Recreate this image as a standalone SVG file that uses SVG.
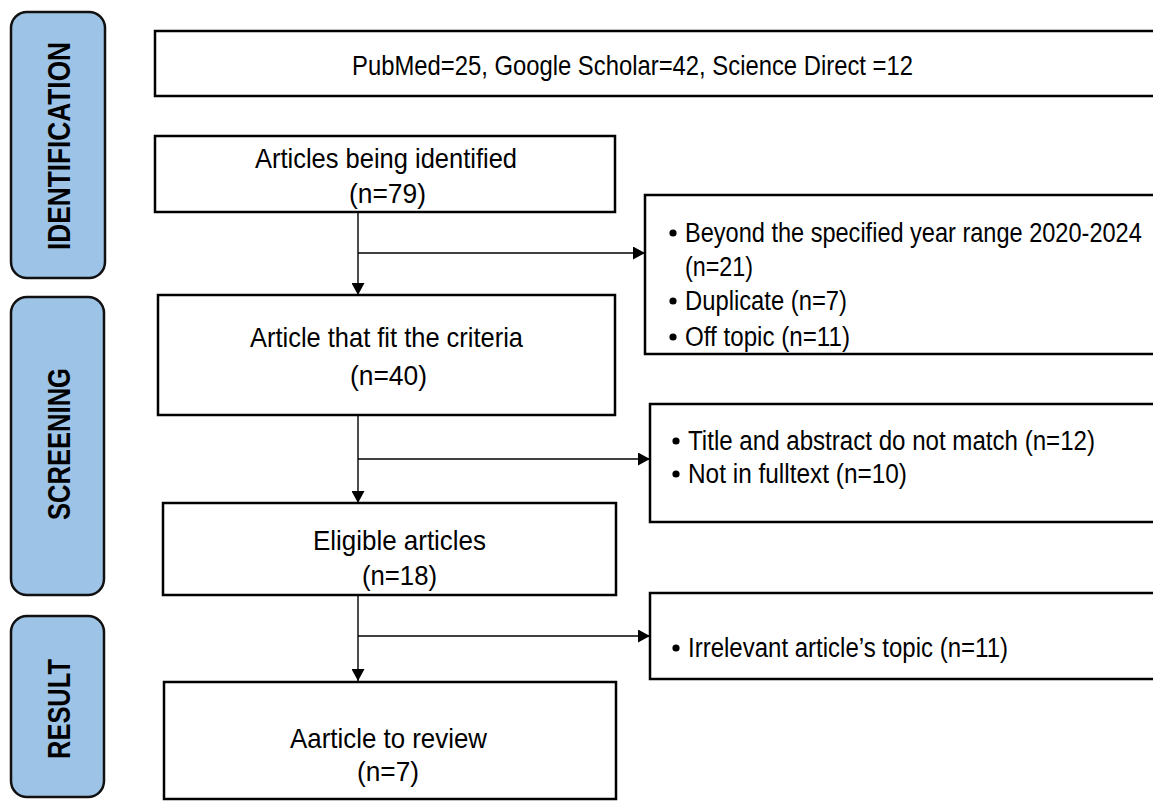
<svg xmlns="http://www.w3.org/2000/svg" width="1153" height="801" viewBox="0 0 1153 801">
<defs>
<marker id="ah" markerUnits="userSpaceOnUse" markerWidth="13" markerHeight="13" refX="12" refY="6.5" orient="auto">
<path d="M0,0 L12,6.5 L0,13 Z" fill="#000"/>
</marker>
<style>
.stage{fill:#9DC3E6;stroke:#111;stroke-width:2.5}
.stxt{font-family:"Liberation Sans",Arial,sans-serif;font-weight:bold;font-size:31px;fill:#000}
.box{fill:#fff;stroke:#000;stroke-width:2.5}
.t{font-family:"Liberation Sans",Arial,sans-serif;font-size:28px;fill:#000}
.b{font-family:"Liberation Sans",Arial,sans-serif;font-size:27px;fill:#000}
.conn{fill:none;stroke:#000;stroke-width:1.4}
</style>
</defs>
<rect width="1153" height="801" fill="#fff"/>
<g id="stage-identification">
<rect class="stage" x="11" y="12" width="94" height="266" rx="16"/>
<text class="stxt" transform="translate(70,250) rotate(-90)" textLength="208" lengthAdjust="spacingAndGlyphs">IDENTIFICATION</text>
</g>
<g id="stage-screening">
<rect class="stage" x="11" y="297" width="93" height="298" rx="16"/>
<text class="stxt" transform="translate(70,520) rotate(-90)" textLength="152" lengthAdjust="spacingAndGlyphs">SCREENING</text>
</g>
<g id="stage-result">
<rect class="stage" x="11" y="616" width="93" height="181" rx="16"/>
<text class="stxt" transform="translate(70,759) rotate(-90)" textLength="100" lengthAdjust="spacingAndGlyphs">RESULT</text>
</g>
<g id="sources">
<rect class="box" x="155" y="31" width="1010" height="65"/>
<text class="t" x="352" y="75" textLength="561" lengthAdjust="spacingAndGlyphs">PubMed=25, Google Scholar=42, Science Direct =12</text>
</g>
<g id="identified">
<rect class="box" x="155" y="136" width="460" height="76"/>
<text class="t" x="255" y="168" textLength="262" lengthAdjust="spacingAndGlyphs">Articles being identified</text>
<text class="t" x="349" y="203" textLength="77" lengthAdjust="spacingAndGlyphs">(n=79)</text>
</g>
<g id="excluded-1">
<rect class="box" x="645" y="195" width="520" height="159"/>
<circle cx="673" cy="233" r="3.6"/>
<text class="b" transform="translate(685,242) scale(0.872,1)">Beyond the specified year range 2020-2024</text>
<text class="b" x="685" y="276" textLength="68" lengthAdjust="spacingAndGlyphs">(n=21)</text>
<circle cx="673" cy="301" r="3.6"/>
<text class="b" x="685" y="310" textLength="162" lengthAdjust="spacingAndGlyphs">Duplicate (n=7)</text>
<circle cx="673" cy="337" r="3.6"/>
<text class="b" x="685" y="346" textLength="165" lengthAdjust="spacingAndGlyphs">Off topic (n=11)</text>
</g>
<g id="fit-criteria">
<rect class="box" x="158" y="295" width="457" height="120"/>
<text class="t" x="250" y="347" textLength="273" lengthAdjust="spacingAndGlyphs">Article that fit the criteria</text>
<text class="t" x="350" y="385" textLength="77" lengthAdjust="spacingAndGlyphs">(n=40)</text>
</g>
<g id="excluded-2">
<rect class="box" x="650" y="404" width="515" height="118"/>
<circle cx="676" cy="441" r="3.6"/>
<text class="b" x="688" y="450" textLength="407" lengthAdjust="spacingAndGlyphs">Title and abstract do not match (n=12)</text>
<circle cx="676" cy="474" r="3.6"/>
<text class="b" x="688" y="483" textLength="219" lengthAdjust="spacingAndGlyphs">Not in fulltext (n=10)</text>
</g>
<g id="eligible">
<rect class="box" x="163" y="503" width="453" height="92"/>
<text class="t" x="313" y="550" textLength="173" lengthAdjust="spacingAndGlyphs">Eligible articles</text>
<text class="t" x="362" y="585" textLength="75" lengthAdjust="spacingAndGlyphs">(n=18)</text>
</g>
<g id="excluded-3">
<rect class="box" x="650" y="593" width="515" height="86"/>
<circle cx="676" cy="648" r="3.6"/>
<text class="b" x="688" y="657" textLength="320" lengthAdjust="spacingAndGlyphs">Irrelevant article’s topic (n=11)</text>
</g>
<g id="review">
<rect class="box" x="164" y="682" width="452" height="117"/>
<text class="t" x="290" y="748" textLength="197" lengthAdjust="spacingAndGlyphs">Aarticle to review</text>
<text class="t" x="357" y="781" textLength="62" lengthAdjust="spacingAndGlyphs">(n=7)</text>
</g>
<g id="connectors">
<line class="conn" x1="358" y1="213" x2="358" y2="295" marker-end="url(#ah)"/>
<line class="conn" x1="358" y1="253" x2="645" y2="253" marker-end="url(#ah)"/>
<line class="conn" x1="358" y1="416" x2="358" y2="503" marker-end="url(#ah)"/>
<line class="conn" x1="358" y1="459" x2="650" y2="459" marker-end="url(#ah)"/>
<line class="conn" x1="358" y1="596" x2="358" y2="681" marker-end="url(#ah)"/>
<line class="conn" x1="358" y1="636" x2="650" y2="636" marker-end="url(#ah)"/>
</g>
</svg>
